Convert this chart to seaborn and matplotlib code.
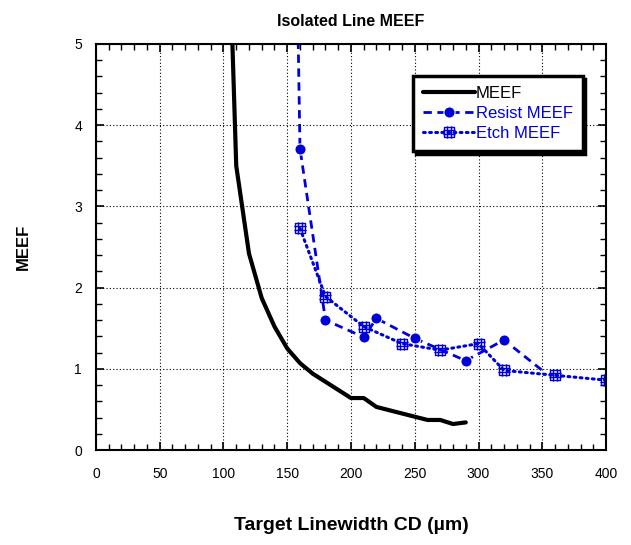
import numpy as np
import pandas as pd
import seaborn as sns
import matplotlib
matplotlib.use('Agg')
import matplotlib.pyplot as plt
from matplotlib.path import Path
from matplotlib.ticker import MultipleLocator

# Данные
meef_x = [107, 110, 120, 130, 140, 150, 160, 170, 180, 190, 200, 210, 220, 230, 240, 250, 260, 270, 280, 290]
meef_y = [5.0, 3.5, 2.42, 1.87, 1.52, 1.25, 1.07, 0.94, 0.84, 0.74, 0.64, 0.64, 0.53, 0.49, 0.45, 0.41, 0.37, 0.37, 0.32, 0.34]

resist_x = [158, 160, 180, 210, 220, 250, 290, 320, 350]
resist_y = [5.6, 3.71, 1.60, 1.39, 1.62, 1.375, 1.10, 1.355, 0.98]

etch_x = [160, 180, 210, 240, 270, 300, 320, 360, 400]
etch_y = [2.73, 1.89, 1.52, 1.31, 1.23, 1.31, 0.98, 0.92, 0.86]

blue = '#0000d8'

# Маркер "квадрат с решёткой"
verts = [(-1, -1), (1, -1), (1, 1), (-1, 1), (-1, -1),
         (-1 / 3, -1.15), (-1 / 3, 1.15), (1 / 3, -1.15), (1 / 3, 1.15),
         (-1.15, -1 / 3), (1.15, -1 / 3), (-1.15, 1 / 3), (1.15, 1 / 3)]
codes = [Path.MOVETO, Path.LINETO, Path.LINETO, Path.LINETO, Path.CLOSEPOLY,
         Path.MOVETO, Path.LINETO, Path.MOVETO, Path.LINETO,
         Path.MOVETO, Path.LINETO, Path.MOVETO, Path.LINETO]
grid_marker = Path(verts, codes)

sns.set_style('ticks')
plt.rcParams['font.family'] = ['Liberation Sans', 'DejaVu Sans']
plt.rcParams['text.color'] = 'black'
plt.rcParams['axes.labelcolor'] = 'black'
plt.rcParams['xtick.color'] = 'black'
plt.rcParams['ytick.color'] = 'black'

fig = plt.figure(figsize=(6.31, 5.45), dpi=100)
ax = fig.add_axes([0.1521, 0.1743, 0.8083, 0.745])

sns.lineplot(x=meef_x, y=meef_y, ax=ax, color='black', linewidth=3.0,
             sort=False, label='MEEF')
sns.lineplot(x=resist_x, y=resist_y, ax=ax, color=blue, linewidth=2.0,
             sort=False, label='Resist MEEF', marker='o', markersize=8,
             markevery=list(range(1, len(resist_x) - 1)),
             dashes=False, linestyle=(0, (3, 2)))
sns.lineplot(x=etch_x, y=etch_y, ax=ax, color=blue, linewidth=2.2,
             sort=False, label='Etch MEEF', marker=grid_marker, markersize=9,
             markerfacecolor='none', markeredgecolor=blue, markeredgewidth=1.0,
             dashes=False, linestyle=(0, (0.6, 1.4)), dash_capstyle='round')

ax.set_xlim(0, 400)
ax.set_ylim(0, 5)
ax.xaxis.set_major_locator(MultipleLocator(50))
ax.xaxis.set_minor_locator(MultipleLocator(10))
ax.yaxis.set_major_locator(MultipleLocator(1))
ax.yaxis.set_minor_locator(MultipleLocator(0.2))
ax.tick_params(which='both', direction='in', top=True, right=True, color='black')
ax.tick_params(which='major', length=6, width=1.2, labelsize=10, pad=10, labelcolor='black')
ax.tick_params(axis='x', which='major', pad=12)
ax.tick_params(which='minor', length=4, width=1.0)
ax.grid(True, which='major', color='black', linestyle=(0, (1, 2)), linewidth=0.8)
for s in ax.spines.values():
    s.set_linewidth(1.5)
    s.set_color('black')

ax.set_title('Isolated Line MEEF', fontsize=11.5, fontweight='bold', pad=13)
ax.set_xlabel('Target Linewidth CD (\u00b5m)', fontsize=14, fontweight='bold', labelpad=26)
ax.set_ylabel('MEEF', fontsize=12, fontweight='bold', labelpad=31)

leg = ax.legend(loc='upper left', bbox_to_anchor=(0.622, 0.921), fontsize=12,
                handlelength=3.1, handletextpad=0.05, borderpad=0.6, labelspacing=0.3,
                borderaxespad=0, frameon=True, fancybox=False, labelcolor='linecolor',
                shadow={'color': 'black', 'alpha': 1.0})
leg.get_frame().set_edgecolor('black')
leg.get_frame().set_linewidth(2.5)
leg.get_frame().set_alpha(1)

fig.savefig('out.png', dpi=100)
